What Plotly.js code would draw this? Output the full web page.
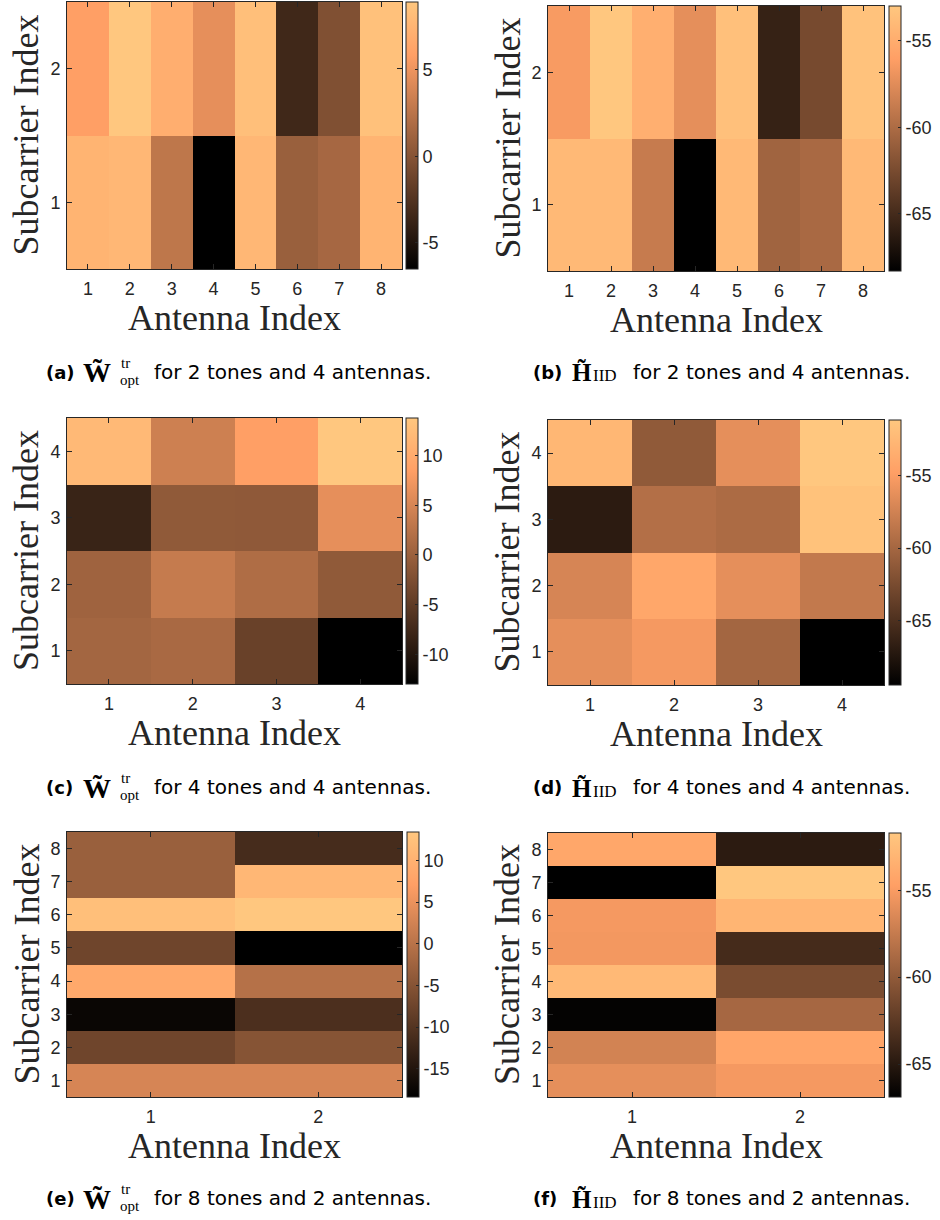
<!DOCTYPE html>
<html><head><meta charset="utf-8">
<script src="https://cdn.plot.ly/plotly-3.0.1.min.js"></script>
<style>html,body{margin:0;padding:0;background:#fff}#chart{width:940px;height:1220px}</style>
</head><body><div id="chart"></div>
<script>
// ---------------- data ----------------
const antennas8 = [1, 2, 3, 4, 5, 6, 7, 8];
const antennas4 = [1, 2, 3, 4];
const antennas2 = [1, 2];
const tones2 = [1, 2];
const tones4 = [1, 2, 3, 4];
const tones8 = [1, 2, 3, 4, 5, 6, 7, 8];

// rows = subcarrier 1..N (bottom to top), columns = antenna 1..M
const wOpt_a = [
  [7.4, 7.7, 2.7, -6.5, 7.7, 0.9, 1.5, 7.4],
  [5.8, 8.9, 7.0, 4.6, 8.3, -3.4, -0.3, 8.4]
];
const hIID_b = [
  [-54.1, -54.1, -58.8, -68.3, -54.1, -60.6, -60.2, -54.1],
  [-56.4, -53.0, -54.8, -57.3, -53.5, -65.7, -62.6, -53.4]
];
const wOpt_c = [
  [0.7, 1.2, -4.2, -13.0],
  [0.4, 3.6, 1.7, -0.9],
  [-8.2, -0.9, -1.0, 6.3],
  [11.9, 4.2, 8.4, 13.8]
];
const hIID_d = [
  [-56.3, -55.4, -60.1, -69.4],
  [-57.2, -54.1, -56.3, -58.3],
  [-66.9, -59.2, -59.6, -51.7],
  [-52.7, -61.2, -56.3, -51.2]
];
const wOpt_e = [
  [2.9, 2.9],
  [-7.3, -5.0],
  [-17.4, -10.8],
  [8.6, -0.3],
  [-7.3, -18.4],
  [12.1, 13.4],
  [-3.1, 10.9],
  [-3.1, -11.4]
];
const hIID_f = [
  [-56.0, -55.2],
  [-56.9, -54.3],
  [-66.7, -59.0],
  [-52.8, -61.1],
  [-55.3, -63.6],
  [-55.2, -53.1],
  [-66.9, -51.7],
  [-54.1, -64.8]
];

const cbTicks_a = [-5, 0, 5];
const cbTicks_b = [-65, -60, -55];
const cbTicks_c = [-10, -5, 0, 5, 10];
const cbTicks_d = [-65, -60, -55];
const cbTicks_e = [-15, -10, -5, 0, 5, 10];
const cbTicks_f = [-65, -60, -55];

const xTitle = 'Antenna Index';
const yTitle = 'Subcarrier Index';
const captionTexts = [
  'for 2 tones and 4 antennas.',
  'for 2 tones and 4 antennas.',
  'for 4 tones and 4 antennas.',
  'for 4 tones and 4 antennas.',
  'for 8 tones and 2 antennas.',
  'for 8 tones and 2 antennas.'
];
const captionLetters = ['(a)', '(b)', '(c)', '(d)', '(e)', '(f)'];

// ---------------- layout helpers ----------------
const W = 940, H = 1220;
const px = v => v / W;
const py = v => 1 - v / H;

// MATLAB "copper" colormap
const copper = [[0, 'rgb(0,0,0)'], [0.8, 'rgb(255,159,101)'], [1, 'rgb(255,199,127)']];

const panels = [
  {x0: 67, x1: 402, y0: 2, y1: 269, cb: 406, xs: antennas8, ys: tones2, z: wOpt_a, cbt: cbTicks_a, kind: 'W', cy: 372},
  {x0: 548, x1: 884, y0: 6, y1: 271, cb: 889, xs: antennas8, ys: tones2, z: hIID_b, cbt: cbTicks_b, kind: 'H', cy: 372},
  {x0: 67, x1: 402, y0: 418, y1: 684, cb: 406, xs: antennas4, ys: tones4, z: wOpt_c, cbt: cbTicks_c, kind: 'W', cy: 787},
  {x0: 548, x1: 884, y0: 420, y1: 685, cb: 889, xs: antennas4, ys: tones4, z: hIID_d, cbt: cbTicks_d, kind: 'H', cy: 787},
  {x0: 67, x1: 402, y0: 832, y1: 1097, cb: 407, xs: antennas2, ys: tones8, z: wOpt_e, cbt: cbTicks_e, kind: 'W', cy: 1198},
  {x0: 548, x1: 884, y0: 833, y1: 1097, cb: 889, xs: antennas2, ys: tones8, z: hIID_f, cbt: cbTicks_f, kind: 'H', cy: 1198}
];

const axColor = '#262626';
const tickFont = {family: 'Liberation Sans, Arial, sans-serif', size: 18, color: axColor};
const titleFont = {family: 'Liberation Serif, Times New Roman, serif', size: 36, color: axColor};
const capFont = {family: 'DejaVu Sans, sans-serif', size: 20, color: '#000'};
const capBold = {family: 'DejaVu Sans, sans-serif', size: 18, color: '#000'};
const wFont = {family: 'Liberation Serif, serif', size: 28, color: '#000'};
const hFont = {family: 'Liberation Serif, serif', size: 25, color: '#000'};
const smallMath = {family: 'Liberation Serif, serif', size: 15, color: '#000'};
const subFont = {family: 'Liberation Serif, serif', size: 17, color: '#000'};

const data = [];
const layout = {
  width: W, height: H,
  margin: {l: 0, r: 0, t: 0, b: 0, autoexpand: false},
  paper_bgcolor: '#fff', plot_bgcolor: '#fff',
  showlegend: false,
  annotations: []
};

const ann = (text, x, y, font, extra) => layout.annotations.push(Object.assign({
  text: text, x: px(x), y: py(y), xref: 'paper', yref: 'paper',
  xanchor: 'left', yanchor: 'middle', showarrow: false, font: font, borderpad: 0
}, extra || {}));

panels.forEach((p, i) => {
  const s = i === 0 ? '' : String(i + 1);
  const common = {
    ticks: 'inside', ticklen: 5, tickcolor: axColor, tickwidth: 1,
    showline: true, mirror: 'ticks', linecolor: axColor, linewidth: 1,
    showgrid: false, zeroline: false, tickfont: tickFont, fixedrange: true,
    automargin: false
  };
  layout['xaxis' + s] = Object.assign({}, common, {
    domain: [px(p.x0), px(p.x1)], anchor: 'y' + s,
    range: [0.5, p.xs.length + 0.5], tickmode: 'array', tickvals: p.xs,
    ticklabelstandoff: 3
  });
  layout['yaxis' + s] = Object.assign({}, common, {
    domain: [py(p.y1), py(p.y0)], anchor: 'x' + s,
    range: [0.5, p.ys.length + 0.5], tickmode: 'array', tickvals: p.ys,
    ticklabelstandoff: 2
  });
  layout['coloraxis' + s] = {
    colorscale: copper,
    colorbar: {
      x: px(p.cb), xanchor: 'left', xref: 'paper', xpad: 0, ypad: 0,
      y: py(p.y0), yanchor: 'top', yref: 'paper',
      len: (p.y1 - p.y0) / H, lenmode: 'fraction',
      thickness: 12, thicknessmode: 'pixels',
      outlinewidth: 1, outlinecolor: axColor, borderwidth: 0,
      ticks: 'inside', ticklen: 3, tickcolor: axColor,
      tickmode: 'array', tickvals: p.cbt, ticktext: p.cbt.map(v => String(v)),
      tickfont: tickFont
    }
  };
  data.push({
    type: 'heatmap', x: p.xs, y: p.ys, z: p.z,
    coloraxis: 'coloraxis' + s,
    xaxis: 'x' + s, yaxis: 'y' + s, hoverinfo: 'skip'
  });

  // axis titles
  ann(xTitle, (p.x0 + p.x1) / 2, p.y1 + 49, titleFont, {xanchor: 'center'});
  ann(yTitle, p.x0 - 41, (p.y0 + p.y1) / 2, titleFont, {xanchor: 'center', textangle: -90});

  // caption
  const left = p.x0 < 300 ? 45 : 532;
  ann('<b>' + captionLetters[i] + '</b>', left, p.cy, capBold);
  if (p.kind === 'W') {
    ann('<b>W\u0303</b>', left + 37, p.cy + 1, wFont);
    ann('tr', left + 75, p.cy - 9, smallMath);
    ann('opt', left + 74, p.cy + 8, smallMath);
    ann(captionTexts[i], left + 108, p.cy, capFont);
  } else {
    ann('<b>H\u0303</b>', left + 39, p.cy + 1, hFont);
    ann('IID', left + 60, p.cy + 4, subFont);
    ann(captionTexts[i], left + 100, p.cy, capFont);
  }
});

Plotly.newPlot('chart', data, layout, {staticPlot: true, displayModeBar: false});
</script>
</body></html>
